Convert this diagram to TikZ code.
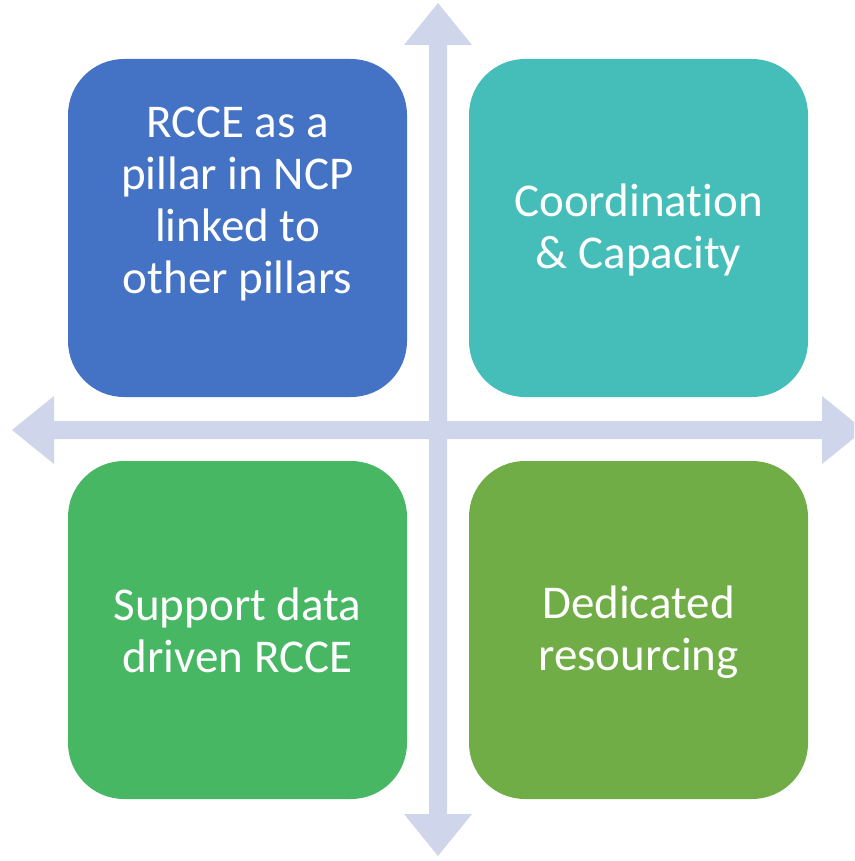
\documentclass[tikz,border=0pt]{standalone}
\usepackage{fontspec}
\setmainfont{Carlito}[Ligatures={NoCommon}]
\usetikzlibrary{positioning}

\definecolor{paneblue}{HTML}{4472C4}
\definecolor{paneteal}{HTML}{45BEB9}
\definecolor{panegreen}{HTML}{47B764}
\definecolor{paneolive}{HTML}{70AD47}
\definecolor{axisgrey}{HTML}{CFD5EA}

\begin{document}
\begin{tikzpicture}[x=1pt, y=-1pt,
    pane/.style={rounded corners=56pt, minimum width=339pt, minimum height=338pt,
        inner sep=0pt, outer sep=0pt, anchor=north west},
    caption/.style={text=white, align=center, font=\fontsize{47}{52}\selectfont},
    axis/.style={fill=axisgrey, draw=none}
    ]
\clip (0,0) rectangle (854,861);
% panes
\node[pane, fill=paneblue]  (tl) at (68,59)   {};
\node[pane, fill=paneteal]  (tr) at (469,59)  {};
\node[pane, fill=panegreen] (bl) at (68,461)  {};
\node[pane, fill=paneolive] (br) at (469,461) {};
% axes
\coordinate (top)    at (438,3);
\coordinate (bottom) at (438,856);
\coordinate (left)   at (12,430);
\coordinate (right)  at (864,430);
\fill[axis] (top) -- ++(34,42) -- ++(-25,0) -- ++(0,769) -- ++(25,0) -- (bottom)
    -- ++(-34,-42) -- ++(25,0) -- ++(0,-769) -- ++(-25,0) -- cycle;
\fill[axis] (left) -- ++(42,-34) -- ++(0,25) -- ++(768,0) -- ++(0,-25) -- (right)
    -- ++(-42,34) -- ++(0,-25) -- ++(-768,0) -- ++(0,25) -- cycle;
% texts
\node[caption] (tltext) at ([yshift=24pt]tl.center) {RCCE as a\\pillar in NCP\\linked to\\other pillars};
\node[caption] (trtext) at ([yshift=-2pt]tr.center) {Coordination\\\& Capacity};
\node[caption] (bltext) at (bl.center) {Support data\\driven RCCE};
\node[caption] (brtext) at ([yshift=-2pt]br.center) {Dedicated\\resourcing};
\end{tikzpicture}
\end{document}
